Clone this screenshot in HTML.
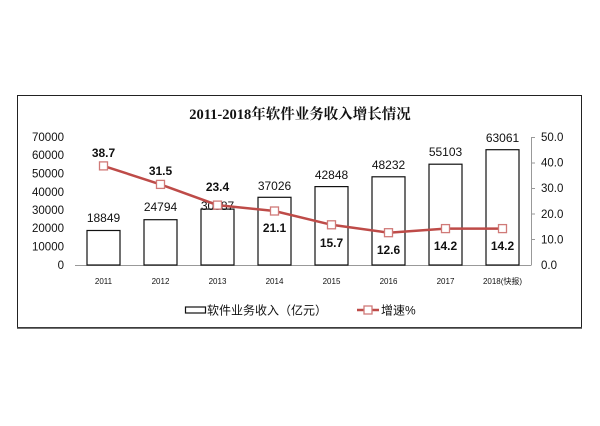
<!DOCTYPE html>
<html><head><meta charset="utf-8"><style>
html,body{margin:0;padding:0;background:#fff;width:600px;height:426px;overflow:hidden}
svg{display:block}
text{font-family:"Liberation Sans","Noto Sans CJK SC",sans-serif;fill:#111}
</style></head><body>
<svg width="600" height="426" viewBox="0 0 600 426" xmlns="http://www.w3.org/2000/svg">
<rect x="17.5" y="95.5" width="564" height="232" fill="#fff" stroke="#222" stroke-width="1"/>
<line x1="17" y1="328" x2="582" y2="328" stroke="#444" stroke-width="1.5"/>
<text x="300" y="119" text-anchor="middle" style="font-family:'Liberation Serif','Noto Serif CJK SC',serif;font-weight:bold;font-size:14.5px">2011-2018年软件业务收入增长情况</text>
<g font-size="11.5" text-anchor="end">
<text x="64" y="141">70000</text><text x="64" y="159">60000</text><text x="64" y="177.5">50000</text><text x="64" y="196">40000</text><text x="64" y="214">30000</text><text x="64" y="232">20000</text><text x="64" y="250.5">10000</text><text x="64" y="269">0</text>
</g>
<g font-size="11.5">
<text x="541" y="141">50.0</text><text x="541" y="166.5">40.0</text><text x="541" y="192">30.0</text><text x="541" y="218">20.0</text><text x="541" y="243.5">10.0</text><text x="541" y="269">0.0</text>
</g>
<line x1="75" y1="265.5" x2="531" y2="265.5" stroke="#999" stroke-width="1"/>
<line x1="531.5" y1="137" x2="531.5" y2="265.5" stroke="#999" stroke-width="1"/>
<g stroke="#999"><line x1="531" y1="137.5" x2="535" y2="137.5"/><line x1="531" y1="163" x2="535" y2="163"/><line x1="531" y1="188.5" x2="535" y2="188.5"/><line x1="531" y1="214" x2="535" y2="214"/><line x1="531" y1="239.5" x2="535" y2="239.5"/></g>
<g fill="#fff" stroke="#111" stroke-width="1.2">
<rect x="87" y="230.5" width="33" height="34.5"/>
<rect x="144" y="219.7" width="33" height="45.3"/>
<rect x="201" y="209.1" width="33" height="55.9"/>
<rect x="258" y="197.3" width="33" height="67.7"/>
<rect x="315" y="186.6" width="33" height="78.4"/>
<rect x="372" y="176.8" width="33" height="88.2"/>
<rect x="429" y="164.2" width="33" height="100.8"/>
<rect x="486" y="149.7" width="33" height="115.3"/>
</g>
<g font-size="12" text-anchor="middle">
<text x="103.5" y="222">18849</text><text x="160.5" y="211">24794</text><text x="217.5" y="210">30587</text><text x="274.5" y="190">37026</text><text x="331.5" y="179">42848</text><text x="388.5" y="169">48232</text><text x="445.5" y="156">55103</text><text x="502.5" y="142">63061</text>
</g>
<polyline points="103.5,165.9 160.5,184.4 217.5,205.1 274.5,211 331.5,224.8 388.5,232.7 445.5,228.6 502.5,228.6" fill="none" stroke="#be4b48" stroke-width="2.5"/>
<g fill="#fff" stroke="#d07a78" stroke-width="1.3">
<rect x="99.5" y="161.9" width="8" height="8"/><rect x="156.5" y="180.4" width="8" height="8"/><rect x="213.5" y="201.1" width="8" height="8"/><rect x="270.5" y="207" width="8" height="8"/><rect x="327.5" y="220.8" width="8" height="8"/><rect x="384.5" y="228.7" width="8" height="8"/><rect x="441.5" y="224.6" width="8" height="8"/><rect x="498.5" y="224.6" width="8" height="8"/>
</g>
<g font-size="12" font-weight="bold" text-anchor="middle">
<text x="103.5" y="157">38.7</text><text x="160.5" y="175">31.5</text><text x="217.5" y="191">23.4</text><text x="274.5" y="232">21.1</text><text x="331.5" y="247">15.7</text><text x="388.5" y="254">12.6</text><text x="445.5" y="250">14.2</text><text x="502.5" y="250">14.2</text>
</g>
<g font-size="8" text-anchor="middle">
<text x="103.5" y="284">2011</text><text x="160.5" y="284">2012</text><text x="217.5" y="284">2013</text><text x="274.5" y="284">2014</text><text x="331.5" y="284">2015</text><text x="388.5" y="284">2016</text><text x="445.5" y="284">2017</text><text x="502.5" y="284">2018(快报)</text>
</g>
<rect x="185.5" y="307" width="20" height="6" fill="#fff" stroke="#111" stroke-width="1.2"/>
<text x="207" y="314.5" font-size="12">软件业务收入（亿元）</text>
<line x1="357" y1="310" x2="379" y2="310" stroke="#be4b48" stroke-width="2.5"/>
<rect x="364" y="306" width="8" height="8" fill="#fff" stroke="#d07a78" stroke-width="1.3"/>
<text x="381" y="314.5" font-size="12">增速%</text>
</svg>
</body></html>
